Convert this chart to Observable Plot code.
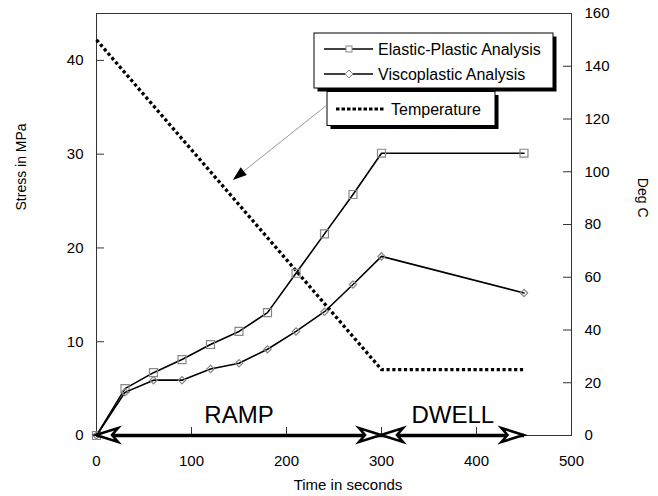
<!DOCTYPE html>
<html>
<head>
<meta charset="utf-8">
<script src="https://cdn.jsdelivr.net/npm/d3@7"></script>
<script src="https://cdn.jsdelivr.net/npm/@observablehq/plot@0.6"></script>
<style>
  html, body { margin: 0; padding: 0; background: #fff; }
</style>
</head>
<body>
<div id="chart"></div>
<script>
// ---- data ----
const times = [0, 30, 60, 90, 120, 150, 180, 210, 240, 270, 300, 450];
const elasticStress = [0, 5.0, 6.7, 8.1, 9.7, 11.1, 13.1, 17.3, 21.5, 25.7, 30.1, 30.1];
const viscoStress = [0, 4.6, 5.9, 5.9, 7.1, 7.7, 9.2, 11.1, 13.2, 16.1, 19.1, 15.2];
const tempTimes = [0, 300, 450];
const tempValues = [150, 25, 25];
const timeTicks = [0, 100, 200, 300, 400, 500];
const stressTicks = [0, 10, 20, 30, 40];
const tempTicks = [0, 20, 40, 60, 80, 100, 120, 140, 160];
const phaseLabels = ["RAMP", "DWELL"];
const phaseStart = [0, 300];
const phaseEnd = [300, 450];
const seriesNames = ["Elastic-Plastic Analysis", "Viscoplastic Analysis", "Temperature"];

// ---- derived tables ----
const STRESS_MAX = 45, TEMP_MAX = 160;
const toStress = (t) => t * STRESS_MAX / TEMP_MAX;
const elastic = times.map((t, i) => ({t, s: elasticStress[i]}));
const visco = times.map((t, i) => ({t, s: viscoStress[i]}));
const temp = tempTimes.map((t, i) => ({t, s: toStress(tempValues[i])}));
const phases = phaseLabels.map((label, i) => ({label, start: phaseStart[i], end: phaseEnd[i]}));

const W = 658, H = 496, ML = 96, MR = 87, MT = 13, MB = 61;
const PW = W - ML - MR, PH = H - MT - MB;
const font = "'Liberation Sans', Arial, Helvetica, sans-serif";

const plot = Plot.plot({
  width: W, height: H,
  marginLeft: ML, marginRight: MR, marginTop: MT, marginBottom: MB,
  style: {fontFamily: font, fontSize: "15px", background: "#fff", color: "#000", overflow: "visible"},
  x: {domain: [0, 500]},
  y: {domain: [0, STRESS_MAX]},
  marks: [
    Plot.frame({stroke: "#333", strokeWidth: 1}),
    // inward ticks
    Plot.tickY(stressTicks, {y: d => d, insetRight: PW - 8, stroke: "#333"}),
    Plot.tickY(tempTicks.map(toStress), {y: d => d, insetLeft: PW - 8, stroke: "#333"}),
    Plot.tickX(timeTicks, {x: d => d, insetTop: PH - 8, stroke: "#333"}),
    // axis labels
    Plot.axisX(timeTicks, {tickSize: 0, tickPadding: 20, label: null, fontSize: 15}),
    Plot.axisY(stressTicks, {tickSize: 0, tickPadding: 13, label: null, fontSize: 15}),
    Plot.axisY(tempTicks.map(toStress), {anchor: "right", tickSize: 0, tickPadding: 13, label: null, fontSize: 15,
      tickFormat: d => String(Math.round(d * TEMP_MAX / STRESS_MAX))}),
    Plot.text(["Time in seconds"], {frameAnchor: "bottom", dx: 14, dy: 54, fontSize: 15, lineAnchor: "bottom"}),
    Plot.text(["Stress in MPa"], {frameAnchor: "left", dx: -75, dy: -14, rotate: -90, fontSize: 14}),
    Plot.text(["Deg C"], {frameAnchor: "right", dx: 71, dy: -7, rotate: 90, fontSize: 14}),
    // series
    Plot.line(temp, {x: "t", y: "s", stroke: "#000", strokeWidth: 3.3, strokeDasharray: "3.2,2.6",
      strokeLinecap: "butt", strokeLinejoin: "miter"}),
    Plot.line(elastic, {x: "t", y: "s", stroke: "#000", strokeWidth: 1.6}),
    Plot.dot(elastic, {x: "t", y: "s", symbol: "square", r: 4.5, stroke: "#888", fill: "none", strokeWidth: 1.2}),
    Plot.line(visco, {x: "t", y: "s", stroke: "#000", strokeWidth: 1.6}),
    Plot.dot(visco, {x: "t", y: "s", symbol: "diamond2", r: 3.3, stroke: "#888", fill: "none", strokeWidth: 1.2}),
    // phase arrows
    Plot.link(phases, {x1: "start", x2: "end", y1: () => 0, y2: () => 0, stroke: "#000", strokeWidth: 3.5}),
    Plot.text(phases, {x: d => (d.start + d.end) / 2, y: () => 0, text: "label", dy: -13, lineAnchor: "bottom", fontSize: 24})
  ]
});

document.getElementById("chart").appendChild(plot);

const sx = plot.scale("x"), sy = plot.scale("y");
const svg = d3.select(plot);

// arrow heads for phases
const headPath = "M0,0 L-22,-7 L-16,0 L-22,7 Z";
phases.forEach(p => {
  const y0 = sy.apply(0);
  [[p.start, 180], [p.end, 0]].forEach(([v, rot]) => {
    svg.append("path")
      .attr("d", headPath)
      .attr("transform", `translate(${sx.apply(v)},${y0}) rotate(${rot})`)
      .attr("fill", "#fff").attr("stroke", "#000").attr("stroke-width", 2.6)
      .attr("stroke-linejoin", "miter");
  });
});

// legend
const lg = svg.append("g").attr("font-family", font).attr("font-size", 16).attr("text-anchor", "start");
function box(x, y, w, h) {
  lg.append("rect").attr("x", x + 3.5).attr("y", y + 3.5).attr("width", w).attr("height", h).attr("fill", "#000");
  lg.append("rect").attr("x", x).attr("y", y).attr("width", w).attr("height", h)
    .attr("fill", "#fff").attr("stroke", "#000").attr("stroke-width", 1);
}
box(314, 33, 239, 55);
box(327, 91.5, 168, 34);
// Elastic
lg.append("line").attr("x1", 324).attr("x2", 373).attr("y1", 49).attr("y2", 49).attr("stroke", "#000").attr("stroke-width", 1.5);
lg.append("rect").attr("x", 346).attr("y", 46).attr("width", 6).attr("height", 6).attr("fill", "#fff").attr("stroke", "#888");
lg.append("text").attr("x", 378).attr("y", 49).attr("dy", "0.36em").text(seriesNames[0]);
// Visco
lg.append("line").attr("x1", 324).attr("x2", 373).attr("y1", 74).attr("y2", 74).attr("stroke", "#000").attr("stroke-width", 1.5);
lg.append("path").attr("d", "M349,70 L353,74 L349,78 L345,74 Z").attr("fill", "#fff").attr("stroke", "#888");
lg.append("text").attr("x", 378).attr("y", 74).attr("dy", "0.36em").text(seriesNames[1]);
// Temperature
lg.append("line").attr("x1", 336).attr("x2", 385).attr("y1", 109).attr("y2", 109).attr("stroke", "#000")
  .attr("stroke-width", 3).attr("stroke-dasharray", "3.5,2");
lg.append("text").attr("x", 391).attr("y", 109).attr("dy", "0.36em").text(seriesNames[2]);

// callout arrow toward the temperature curve
const fromPt = [sx.apply(242), sy.apply(35.1)];
const tipPt = [sx.apply(144), sy.apply(27.2)];
const ang = Math.atan2(tipPt[1] - fromPt[1], tipPt[0] - fromPt[0]);
const hl = 14, hw = 5;
const base = [tipPt[0] - hl * Math.cos(ang), tipPt[1] - hl * Math.sin(ang)];
svg.append("line").attr("x1", fromPt[0]).attr("y1", fromPt[1]).attr("x2", base[0]).attr("y2", base[1])
  .attr("stroke", "#999").attr("stroke-width", 1);
svg.append("path")
  .attr("d", `M${tipPt[0]},${tipPt[1]} L${base[0] - hw * Math.sin(ang)},${base[1] + hw * Math.cos(ang)} L${base[0] + hw * Math.sin(ang)},${base[1] - hw * Math.cos(ang)} Z`)
  .attr("fill", "#000");
</script>
</body>
</html>
